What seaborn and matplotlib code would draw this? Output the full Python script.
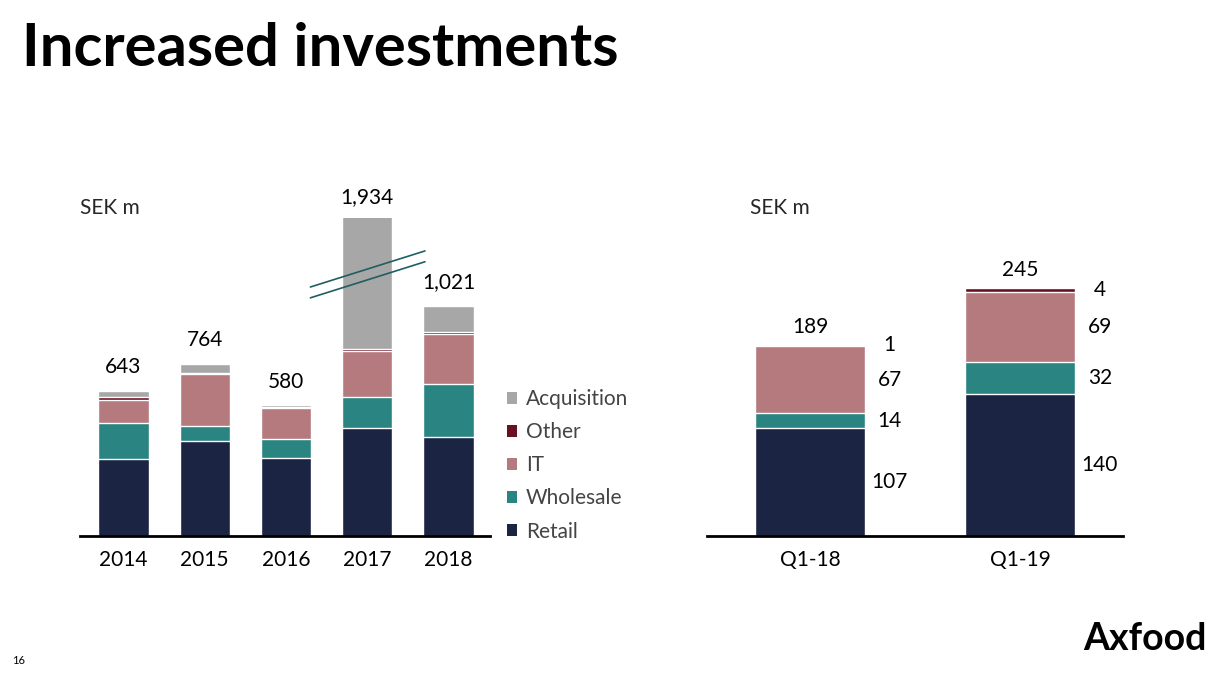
import numpy as np
import seaborn as sns
import matplotlib.pyplot as plt
from matplotlib.patches import Patch

sns.set_style('white')
plt.rcParams['font.family'] = ['Lato', 'DejaVu Sans']

# Annual investments, SEK m
years = ['2014', '2015', '2016', '2017', '2018']
retail = [341, 422, 346, 479, 439]
wholesale = [160, 66, 86, 137, 236]
it = [102, 229, 135, 204, 220]
other = [15, 4, 3, 8, 9]
acquisition = [25, 43, 10, 1106, 117]
totals = [643, 764, 580, 1934, 1021]

# Quarterly investments, SEK m
quarters = ['Q1-18', 'Q1-19']
q_retail = [107, 140]
q_wholesale = [14, 32]
q_it = [67, 69]
q_other = [1, 4]
q_totals = [189, 245]

colors = {
    'Retail': '#1c2444',
    'Wholesale': '#2a8482',
    'IT': '#b47a7e',
    'Other': '#6a1020',
    'Acquisition': '#a7a7a7',
}

fig = plt.figure(figsize=(12.25, 6.73), dpi=100)
W, H = 1225, 673
FS = 15


def ax_at(x0, x1, y_base, y_top):
    return fig.add_axes([x0 / W, 1 - y_base / H, (x1 - x0) / W, (y_base - y_top) / H])


def stacked(ax, cats, layers, width):
    # draw cumulative sums from the top layer down so each segment shows
    cum = np.cumsum(np.array([v for _, v in layers]), axis=0)
    for (name, _), c in reversed(list(zip(layers, cum))):
        sns.barplot(x=cats, y=c, color=colors[name], width=width, saturation=1,
                    edgecolor='white', linewidth=1, ax=ax)
    return cum


def style(ax):
    for s in ['top', 'right', 'left']:
        ax.spines[s].set_visible(False)
    ax.spines['bottom'].set_linewidth(2)
    ax.spines['bottom'].set_color('black')
    ax.set_yticks([])
    ax.set_xlabel('')
    ax.set_ylabel('')
    ax.tick_params(axis='x', length=0, pad=10, labelsize=FS, colors='black')


# Left chart: annual
ax1 = ax_at(80, 490, 536, 218)
layers = [('Retail', retail), ('Wholesale', wholesale), ('IT', it),
          ('Other', other), ('Acquisition', acquisition)]
stacked(ax1, years, layers, 0.62)
ymax1 = 1410
ax1.set_ylim(0, ymax1)
ax1.set_xlim(-0.535, 4.51)
style(ax1)
for i, t in enumerate(totals):
    off = 15 if t > ymax1 else 17
    ax1.annotate(f'{t:,}', (i, min(t, ymax1)), xytext=(0, off), textcoords='offset points',
                 ha='center', va='center', fontsize=FS, color='black', annotation_clip=False)

# axis break marks on the 2017 bar
bx = np.array([3 - 0.70, 3 + 0.71])
for yc in [1184, 1136]:
    ax1.plot(bx, [yc - 80, yc + 80], color='#1f5f5f', lw=1.2, clip_on=False, zorder=5)

ax1.text(0, 1.03, 'SEK m', transform=ax1.transAxes, ha='left', va='center', fontsize=FS)

handles = [Patch(facecolor=colors[n], edgecolor='none') for n in
           ['Acquisition', 'Other', 'IT', 'Wholesale', 'Retail']]
leg = fig.legend(handles, ['Acquisition', 'Other', 'IT', 'Wholesale', 'Retail'],
                 loc='upper left', bbox_to_anchor=(507 / W, 1 - 389 / H), frameon=False,
                 fontsize=FS, handlelength=0.5, handleheight=0.5, handletextpad=0.4,
                 labelspacing=0.63, borderpad=0, borderaxespad=0)
for txt in leg.get_texts():
    txt.set_color('#444444')

# Right chart: quarterly
ax2 = ax_at(707, 1123, 536, 218)
q_layers = [('Retail', q_retail), ('Wholesale', q_wholesale), ('IT', q_it), ('Other', q_other)]
cum = stacked(ax2, quarters, q_layers, 0.524)
ax2.set_ylim(0, 314)
ax2.set_xlim(-0.49, 1.49)
style(ax2)
for i, t in enumerate(q_totals):
    ax2.annotate(f'{t}', (i, t), xytext=(0, 13), textcoords='offset points',
                 ha='center', va='center', fontsize=FS, color='black')
for k, (name, vals) in enumerate(q_layers):
    for i, v in enumerate(vals):
        mid = cum[k][i] - v / 2
        ax2.text(i + 0.38, mid, f'{v}', ha='center', va='center', fontsize=FS, color='black')
ax2.text(43 / 416, 1.03, 'SEK m', transform=ax2.transAxes, ha='left', va='center', fontsize=FS)

# Title and footer
fig.text(22 / W, 1 - 66 / H, 'Increased investments', fontsize=43, fontweight='bold',
         ha='left', va='baseline', color='black')
fig.text(1207 / W, 1 - 650 / H, 'Axfood', fontsize=27, fontweight='bold',
         ha='right', va='baseline', color='black')
fig.text(12 / W, 1 - 660 / H, '16', fontsize=8, ha='left', va='center', color='black')

fig.savefig('out.png', dpi=100)
